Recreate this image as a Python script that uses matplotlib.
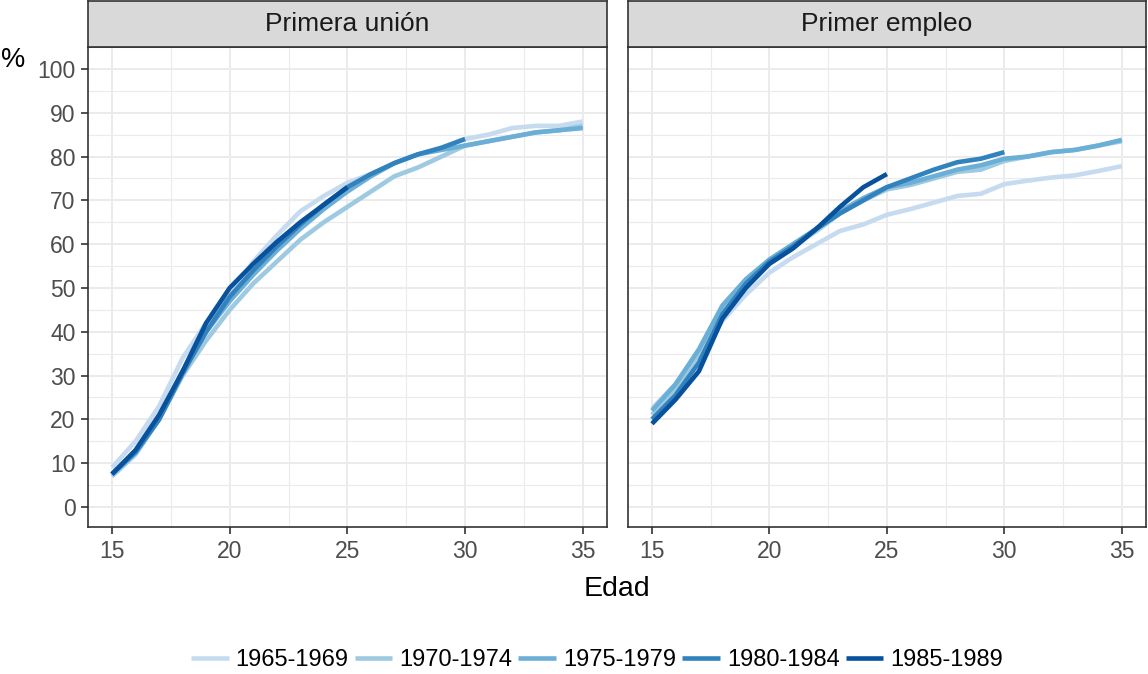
import matplotlib
matplotlib.use("Agg")
import matplotlib.pyplot as plt
from matplotlib.ticker import MultipleLocator

plt.rcParams['font.family'] = ['Liberation Sans', 'DejaVu Sans']

# Cohorts and colours
cohorts = ["1965-1969", "1970-1974", "1975-1979", "1980-1984", "1985-1989"]
colors = ["#c6dbef", "#9ecae1", "#6baed6", "#3182bd", "#08519c"]
panels = ["Primera unión", "Primer empleo"]

# Cumulative percentages by age (ages start at 15, one value per year)
union_1965 = [9, 15, 23, 34, 42, 48, 56, 62, 67.5, 71, 74, 76, 78.5, 80.5, 82, 84, 85, 86.5, 87, 87, 88]
union_1970 = [7, 12, 20, 30, 38, 45, 51, 56, 61, 65, 68.5, 72, 75.5, 77.5, 80, 82.5, 83.5, 84.5, 85.5, 86, 87]
union_1975 = [7.5, 12.5, 20, 31, 40, 47, 53, 58.5, 63.5, 68, 72, 75.5, 78.5, 80.5, 81.5, 82.5, 83.5, 84.5, 85.5, 86, 86.5]
union_1980 = [7.5, 12.5, 20, 30.5, 40, 48, 54, 59.5, 64.5, 69, 73, 76, 78.5, 80.5, 82, 84]
union_1985 = [7.5, 13, 21, 31, 42, 50, 55.5, 60.5, 65, 69, 73]

empleo_1965 = [22.5, 28, 35, 42.5, 48.5, 53.5, 57, 60, 63, 64.5, 66.7, 68, 69.5, 71, 71.5, 73.7, 74.5, 75.2, 75.7, 76.7, 77.8]
empleo_1970 = [21, 27, 35, 45, 51.5, 56, 59.5, 63, 67, 70, 72.5, 73.5, 75, 76.5, 77, 79, 80, 81, 81.5, 82.5, 83.5]
empleo_1975 = [22, 28, 36, 46, 52, 56.5, 60, 63.5, 67.5, 70.5, 73, 74, 75.5, 77, 78, 79.5, 80, 81, 81.5, 82.5, 83.8]
empleo_1980 = [20, 25.5, 33, 44, 51, 56, 59.5, 63.5, 67, 70, 73, 75, 77, 78.7, 79.5, 81]
empleo_1985 = [19, 24.5, 31, 43, 50, 55.5, 59, 63.5, 68.5, 73, 76]

start_age = 15
series = [
    [union_1965, union_1970, union_1975, union_1980, union_1985],
    [empleo_1965, empleo_1970, empleo_1975, empleo_1980, empleo_1985],
]

W, H = 1148, 674
fig = plt.figure(figsize=(W / 100, H / 100), dpi=100)

def fig_rect(x0, y0, x1, y1):
    return [x0 / W, 1 - y1 / H, (x1 - x0) / W, (y1 - y0) / H]

panel_x = [(88, 607), (628, 1146)]
panel_top, panel_bottom = 47, 527
strip_top = 1
tick_color = "#4d4d4d"
border_color = "#333333"
line_w = 3.3

lines = []
for i, (x0, x1) in enumerate(panel_x):
    ax = fig.add_axes(fig_rect(x0, panel_top, x1, panel_bottom))
    ax.set_xlim(13.98, 36.03)
    ax.set_ylim(-4.57, 105.0)
    ax.xaxis.set_major_locator(MultipleLocator(5))
    ax.xaxis.set_minor_locator(MultipleLocator(2.5))
    ax.yaxis.set_major_locator(MultipleLocator(10))
    ax.yaxis.set_minor_locator(MultipleLocator(5))
    ax.grid(which="major", color="#ebebeb", linewidth=1.4)
    ax.grid(which="minor", color="#ebebeb", linewidth=0.8)
    ax.set_axisbelow(True)
    ax.tick_params(which="minor", length=0)
    ax.tick_params(which="major", length=5, width=1.2, color=border_color,
                   labelcolor=tick_color, labelsize=16.5, pad=4)
    for sp in ax.spines.values():
        sp.set_color(border_color)
        sp.set_linewidth(1.2)
    if i == 1:
        ax.tick_params(axis="y", which="both", left=False, labelleft=False)
    for vals, col, lab in zip(series[i], colors, cohorts):
        ages = list(range(start_age, start_age + len(vals)))
        ln, = ax.plot(ages, vals, color=col, linewidth=line_w, label=lab,
                      solid_capstyle="butt", solid_joinstyle="round")
        if i == 0:
            lines.append(ln)

    sax = fig.add_axes(fig_rect(x0, strip_top, x1, panel_top))
    sax.set_facecolor("#d9d9d9")
    sax.set_xticks([])
    sax.set_yticks([])
    for sp in sax.spines.values():
        sp.set_color(border_color)
        sp.set_linewidth(1.2)
    sax.text(0.5, 0.5, panels[i], transform=sax.transAxes, ha="center",
             va="center", fontsize=19, color="#1a1a1a")

fig.text(13 / W, 1 - 60 / H, "%", ha="center", va="center", fontsize=19.5, color="black")
fig.text(617 / W, 1 - 589 / H, "Edad", ha="center", va="center", fontsize=20.5, color="black")

leg = fig.legend(lines, cohorts, loc="center", bbox_to_anchor=(597 / W, 1 - 660 / H),
                 ncol=5, frameon=False, fontsize=17, handlelength=1.6,
                 handletextpad=0.3, columnspacing=0.25, borderaxespad=0)
for h in leg.get_lines():
    h.set_linewidth(line_w)

fig.savefig("out.png", dpi=100)
